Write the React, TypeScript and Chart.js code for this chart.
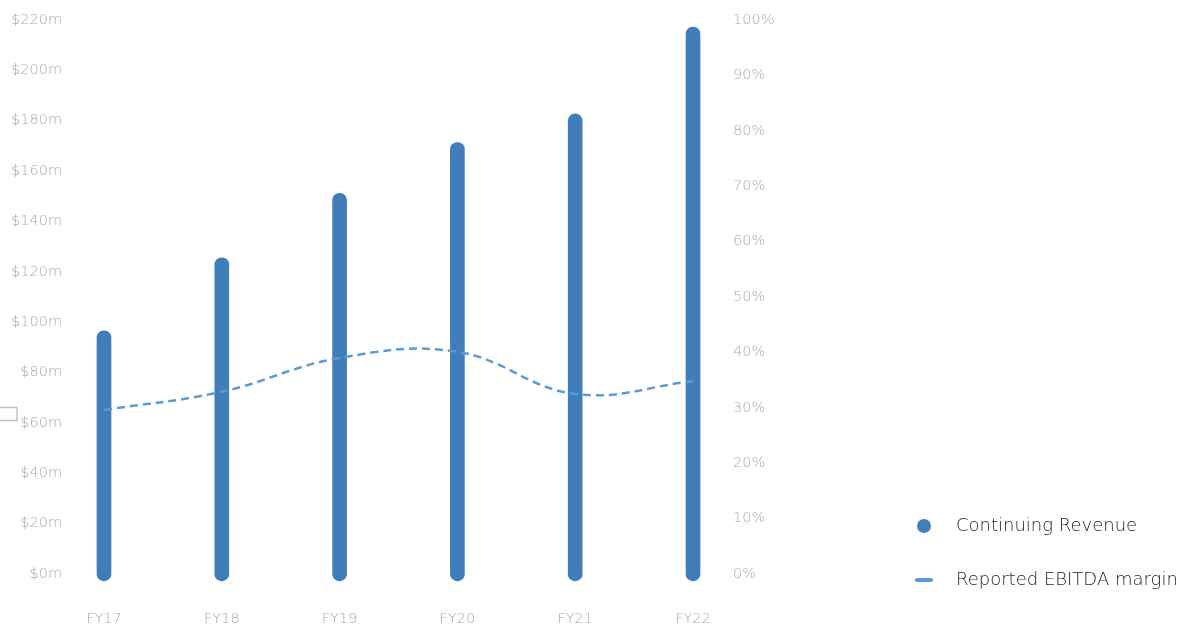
import React, { useEffect, useRef } from "react";
import { Chart, registerables } from "chart.js";

Chart.register(...registerables);

const categories = ["FY17", "FY18", "FY19", "FY20", "FY21", "FY22"];
const revenueSeriesName = "Continuing Revenue";
const revenueValues = [96.6, 125.6, 151.2, 171.3, 182.7, 217.2];
const marginSeriesName = "Reported EBITDA margin";
const marginValues = [29.6, 32.9, 39.0, 40.1, 32.5, 34.8];
const leftTicks = { min: 0, max: 220, step: 20 };
const rightTicks = { min: 0, max: 100, step: 10 };

const FONT = "'DejaVu Sans', 'Open Sans', sans-serif";
const BAR_COLOR = "#407dba";
const LINE_COLOR = "#5b9bd5";
const TICK_COLOR = "#a9a9a9";

const legendPlugin = {
  id: "customLegend",
  afterDraw(chart: any) {
    const ctx = chart.ctx;
    const iconX = chart.width - 258;
    const textX = iconX + 32;
    const base = chart.chartArea.bottom - 48;
    ctx.save();
    ctx.font = `200 18px ${FONT}`;
    ctx.textBaseline = "middle";
    ctx.textAlign = "left";
    chart.data.datasets.forEach((ds: any, i: number) => {
      const y = base + i * 54;
      if (ds.type === "bar") {
        ctx.fillStyle = ds.backgroundColor;
        ctx.beginPath();
        ctx.arc(iconX, y, 7, 0, Math.PI * 2);
        ctx.fill();
      } else {
        ctx.strokeStyle = ds.borderColor;
        ctx.lineWidth = 4;
        ctx.lineCap = "round";
        ctx.beginPath();
        ctx.moveTo(iconX - 7, y);
        ctx.lineTo(iconX + 7, y);
        ctx.stroke();
      }
      ctx.fillStyle = "#262626";
      ctx.fillText(ds.label, textX, y);
    });
    // small stray outline box at the left edge
    ctx.strokeStyle = "#c4c4c4";
    ctx.lineWidth = 1.5;
    ctx.strokeRect(-2, 407.5, 19, 13);
    ctx.restore();
  },
};

const tickFont = { family: FONT, size: 14.5, weight: 200 as any };

export default function App() {
  const ref = useRef<HTMLCanvasElement | null>(null);
  useEffect(() => {
    if (!ref.current) return;
    const chart = new Chart(ref.current, {
      data: {
        labels: categories,
        datasets: [
          {
            type: "bar",
            label: revenueSeriesName,
            data: revenueValues,
            backgroundColor: BAR_COLOR,
            barThickness: 14,
            borderRadius: 7,
            borderSkipped: false,
            base: -2.7,
            yAxisID: "y",
            order: 1,
            clip: false,
          } as any,
          {
            type: "line",
            label: marginSeriesName,
            data: marginValues,
            borderColor: LINE_COLOR,
            backgroundColor: LINE_COLOR,
            borderWidth: 2.5,
            borderDash: [8, 5],
            tension: 0.4,
            pointRadius: 0,
            fill: false,
            yAxisID: "y1",
            order: 0,
            clip: false,
          } as any,
        ],
      },
      options: {
        responsive: false,
        animation: false,
        devicePixelRatio: 1,
        layout: { padding: { top: 20, right: 0, bottom: 0, left: 0 } },
        plugins: { legend: { display: false }, tooltip: { enabled: false } },
        scales: {
          x: {
            offset: false,
            grid: { display: false, drawTicks: false },
            border: { display: false },
            ticks: { color: TICK_COLOR, font: tickFont, padding: 37, maxRotation: 0 },
            afterFit: (s: any) => { s.height = 53; s.paddingLeft = 0; s.paddingRight = 0; },
          },
          y: {
            position: "left",
            min: leftTicks.min,
            max: leftTicks.max,
            grid: { display: false, drawTicks: false },
            border: { display: false },
            ticks: {
              stepSize: leftTicks.step,
              color: TICK_COLOR,
              font: tickFont,
              padding: 42,
              callback: (v: any) => `$${v}m`,
            },
            afterFit: (s: any) => { s.width = 104; s.paddingTop = 0; s.paddingBottom = 0; },
          },
          y1: {
            position: "right",
            min: rightTicks.min,
            max: rightTicks.max,
            grid: { display: false, drawTicks: false },
            border: { display: false },
            ticks: {
              stepSize: rightTicks.step,
              color: TICK_COLOR,
              font: tickFont,
              padding: 40,
              callback: (v: any) => `${v}%`,
            },
            afterFit: (s: any) => { s.width = 489; s.paddingTop = 0; s.paddingBottom = 0; },
          },
        },
      },
      plugins: [legendPlugin],
    } as any);
    return () => chart.destroy();
  }, []);
  return (
    <div style={{ position: "absolute", left: 0, top: 0, width: 1182, height: 627, background: "#fff" }}>
      <canvas ref={ref} width={1182} height={627} style={{ display: "block" }} />
    </div>
  );
}
